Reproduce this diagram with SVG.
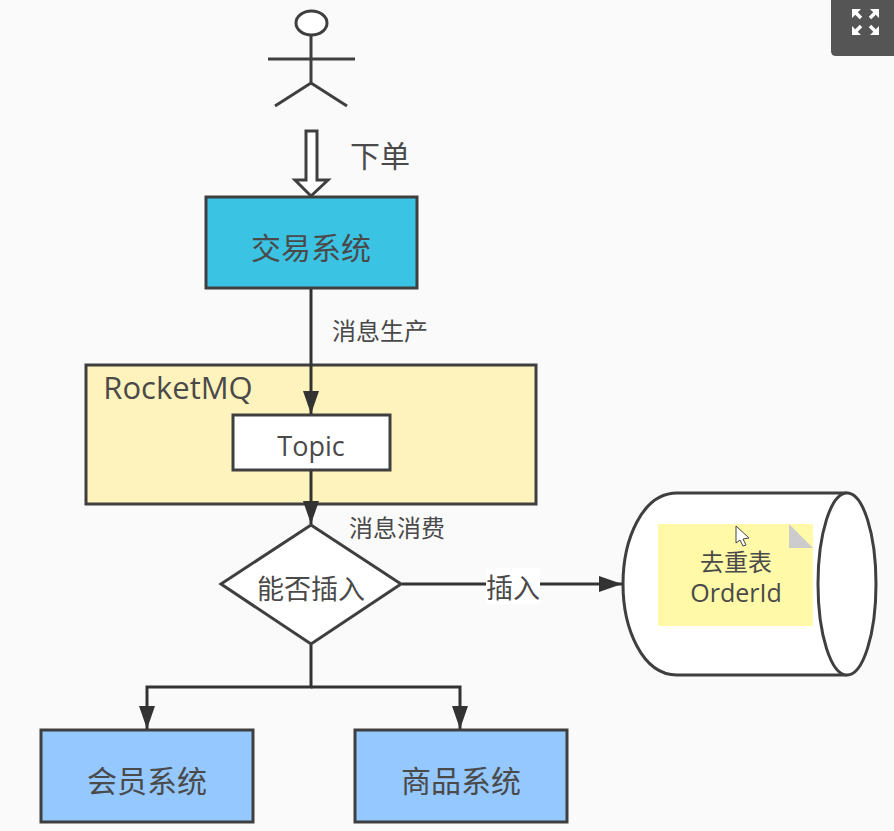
<svg xmlns="http://www.w3.org/2000/svg" width="894" height="831" viewBox="0 0 894 831">
<style>
.s{stroke:#3f3f3f;stroke-width:3;}
text{font-family:"Open Sans","Noto Sans CJK SC",sans-serif;fill:#4a4a4a;text-anchor:middle;}
.c{fill:none;stroke:#333;stroke-width:3;}
.t{font-size:30px;}
.l{font-size:24px;}
</style>
<defs>
<marker id="arrow" markerUnits="userSpaceOnUse" markerWidth="24" markerHeight="18" refX="23" refY="9" orient="auto"><path d="M0 1L23 9L0 17Z" fill="#333"/></marker>
</defs>
<rect width="894" height="831" fill="#fafafa"/>
<g id="fullscreen">
<path d="M831 0H894V56H836Q831 56 831 51Z" fill="#555"/>
<path d="M861 18L855 12M870 18L876 12M861 26L855 32M870 26L876 32" fill="none" stroke="#fff" stroke-width="3.500"/>
<path d="M852 9H861L852 18ZM879 9H870L879 18ZM852 35H861L852 26ZM879 35H870L879 26Z" fill="#fff"/>
</g>
<g id="actor" fill="none" stroke="#3f3f3f" stroke-width="3">
<ellipse cx="311.500" cy="23" rx="15.500" ry="12" fill="#fff"/>
<path d="M311 35V83M268 59H355M275 106L311 83L347 106"/>
</g>
<g id="order-arrow"><path d="M306 131H317V180H328L311 196L295 180H306Z" fill="#fff" class="s"/></g>
<text x="380" y="167" class="t" id="order-label">下单</text>
<g id="trade"><rect x="206" y="197" width="211" height="91" fill="#3bc3e4" class="s"/><text x="311" y="259" class="t">交易系统</text></g>
<text x="380" y="340" class="l">消息生产</text>
<g id="rocketmq"><rect x="86" y="365" width="450" height="139" fill="#fff3bd" class="s"/><text x="178" y="399" font-size="31">RocketMQ</text></g>
<g id="topic"><rect x="233" y="415" width="157" height="55" fill="#fff" class="s"/><text x="311" y="456" font-size="27">Topic</text></g>
<text x="397" y="537" class="l">消息消费</text>
<g id="decision"><path d="M311 525L401 584L311 644L221 584Z" fill="#fff" class="s"/><text x="311" y="599" font-size="27">能否插入</text></g>
<g id="db">
<path d="M847 493H677C642 493 623 540 623 584C623 628 642 675 677 675H847" fill="#fff" class="s"/>
<ellipse cx="847" cy="584" rx="29" ry="91" fill="#fff" class="s"/>
<rect x="658" y="524" width="155" height="102" fill="#fff9a8"/>
<path d="M789 524L813 548H789Z" fill="#ccc"/>
<text x="736" y="571" font-size="24">去重表</text>
<text x="736" y="602" font-size="25">OrderId</text>
<path d="M736 526V543L740 540L743 546L746 545L743 539L749 538Z" fill="#fff" stroke="#444"/>
</g>
<g id="member"><rect x="41" y="730" width="212" height="92" fill="#94c8ff" class="s"/><text x="147" y="792" class="t">会员系统</text></g>
<g id="goods"><rect x="355" y="730" width="212" height="92" fill="#94c8ff" class="s"/><text x="461" y="792" class="t">商品系统</text></g>
<g id="connectors">
<path class="c" d="M311 289V414" marker-end="url(#arrow)"/>
<path class="c" d="M311 471V524" marker-end="url(#arrow)"/>
<path class="c" d="M402 584H622" marker-end="url(#arrow)"/>
<path class="c" d="M311 645V687H147V729" marker-end="url(#arrow)"/>
<path class="c" d="M311 687H460V729" marker-end="url(#arrow)"/>
</g>
<g id="insert-label"><rect x="486" y="568" width="54" height="36" fill="#fff"/><text x="513" y="598" font-size="27">插入</text></g>
</svg>
